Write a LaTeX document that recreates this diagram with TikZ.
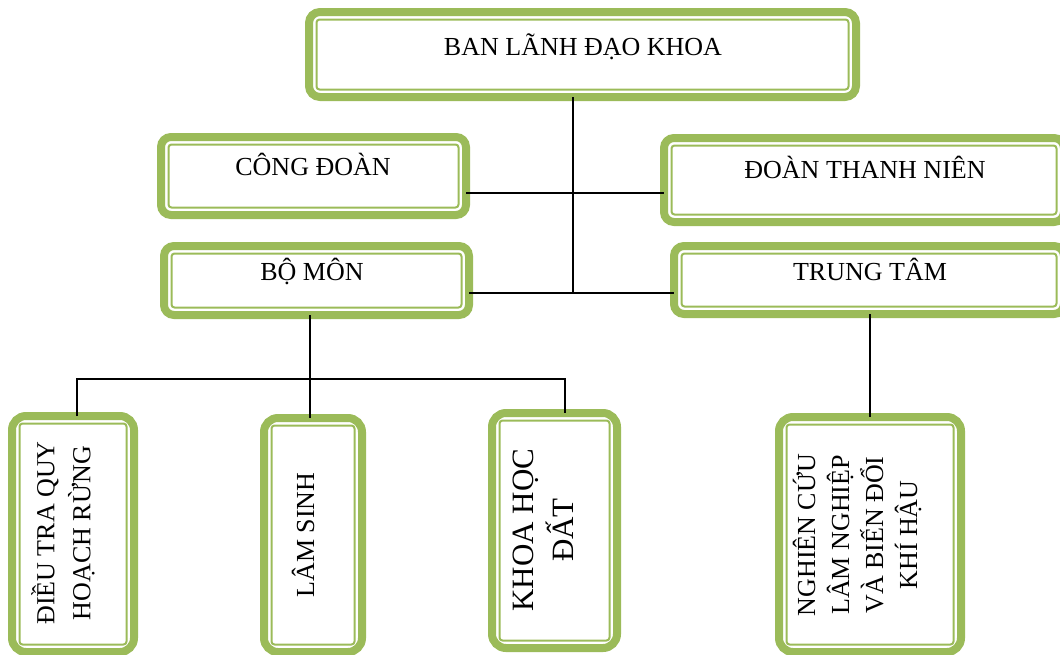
\documentclass[tikz,border=0pt]{standalone}
\usepackage{fontspec}
\setmainfont{Liberation Serif}
\definecolor{lgreen}{HTML}{9BBB59}
\tikzset{
  gout/.style={draw=lgreen, line width=8pt, rounded corners=#1, outer sep=0pt, inner sep=0pt},
  gout/.default=10pt,
  gin/.style={draw=lgreen, line width=2pt, rounded corners=3pt, outer sep=0pt, inner sep=0pt},
  conn/.style={draw=black, line width=1.6pt},
  lbl/.style={font=\fontsize{26}{36}\selectfont, inner sep=0pt},
}
% #1 radius, #2 name, #3 x1, #4 y1, #5 x2, #6 y2 (outer visible edges)
\newcommand\gbox[6][10pt]{%
  \node[gout=#1, minimum width={#5-#3-8pt}, minimum height={#6-#4-8pt}] (#2) at ({(#3+#5)/2},{(#4+#6)/2}) {};
  \node[gin, minimum width={#5-#3-23pt}, minimum height={#6-#4-23pt}] (#2-in) at (#2.center) {};
}
\begin{document}
\begin{tikzpicture}[x=1pt,y=-1pt]
\useasboundingbox (0,0) rectangle (1060,654);
\clip (0,0) rectangle (1060,654);
% boxes
\gbox[11pt]{top}{305}{8}{860}{101}
\gbox{cd}{157}{133}{470}{219}
\gbox{dtn}{660}{134}{1068}{226}
\gbox{bm}{160}{242}{473}{319}
\gbox{tt}{670}{242}{1068}{318}
\gbox[14pt]{dt}{8}{412}{138}{656}
\gbox[14pt]{ls}{260}{414}{366}{656}
\gbox[14pt]{kd}{488}{409}{621}{652}
\gbox[14pt]{nc}{775}{413}{965}{656}
% texts
\node[lbl, anchor=base] (t-top) at (583,55) {BAN LÃNH ĐẠO KHOA};
\node[lbl, anchor=base] (t-cd) at (313,175) {CÔNG ĐOÀN};
\node[lbl, anchor=base] (t-dtn) at (865,178) {ĐOÀN THANH NIÊN};
\node[lbl, anchor=base] (t-bm) at (312,280) {BỘ MÔN};
\node[lbl, anchor=base] (t-tt) at (870,280) {TRUNG TÂM};
\node[lbl, rotate=90, align=center] (t-dt) at (63,533) {ĐIỀU TRA QUY\\HOẠCH RỪNG};
\node[lbl, rotate=90] (t-ls) at (303,535) {LÂM SINH};
\node[lbl, font=\fontsize{31}{40}\selectfont, rotate=90, align=center] (t-kd) at (543,530) {KHOA HỌC\\ĐẤT};
\node[lbl, font=\fontsize{26}{34}\selectfont, rotate=90, align=center] (t-nc) at (857,535) {NGHIÊN CỨU\\LÂM NGHIỆP\\VÀ BIẾN ĐỔI\\KHÍ HẬU};
% connectors
\coordinate (j1) at (573,193);
\coordinate (j2) at (573,293);
\coordinate (j3) at (310,379);
\coordinate (bl) at (77,379);
\coordinate (br) at (565,379);
\draw[conn] (top.south -| j1) -- (j2);
\draw[conn] (cd.east |- j1) -- (dtn.west |- j1);
\draw[conn] (bm.east |- j2) -- (tt.west |- j2);
\draw[conn] (bm.south -| j3) -- (ls.north -| j3);
\draw[conn] (dt.north -| bl) -- (bl) -- (br) -- (kd.north -| br);
\draw[conn] (tt.south -| nc.north) -- (nc.north);
\end{tikzpicture}
\end{document}
